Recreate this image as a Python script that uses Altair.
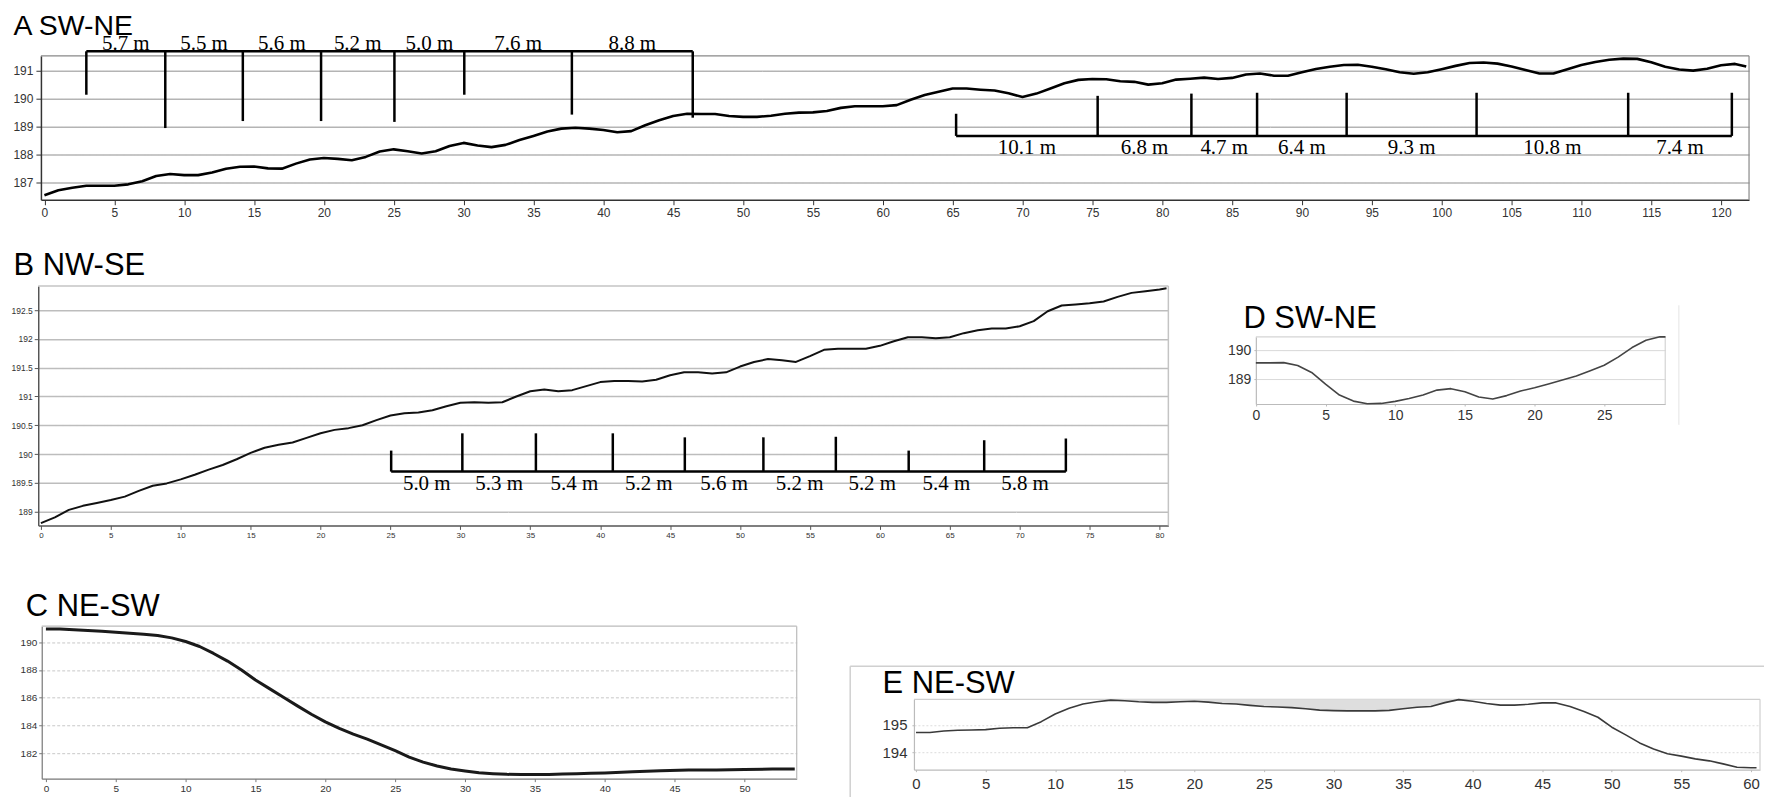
import altair as alt
import pandas as pd

W, H = 1760, 789

# ---------------- Panel A (SW-NE) ----------------
A_x = [0, 1, 2, 3, 4, 5, 6, 7, 8, 9, 10, 11, 12, 13, 14, 15, 16, 17, 18, 19,
       20, 21, 22, 23, 24, 25, 26, 27, 28, 29, 30, 31, 32, 33, 34, 35, 36, 37, 38, 39,
       40, 41, 42, 43, 44, 45, 46, 47, 48, 49, 50, 51, 52, 53, 54, 55, 56, 57, 58, 59,
       60, 61, 62, 63, 64, 65, 66, 67, 68, 69, 70, 71, 72, 73, 74, 75, 76, 77, 78, 79,
       80, 81, 82, 83, 84, 85, 86, 87, 88, 89, 90, 91, 92, 93, 94, 95, 96, 97, 98, 99,
       100, 101, 102, 103, 104, 105, 106, 107, 108, 109, 110, 111, 112, 113, 114, 115,
       116, 117, 118, 119, 120, 121, 121.8]
A_h = [186.55, 186.73, 186.82, 186.89, 186.89, 186.89, 186.94, 187.05, 187.24, 187.31,
       187.27, 187.27, 187.36, 187.50, 187.57, 187.58, 187.51, 187.50, 187.68, 187.83,
       187.88, 187.85, 187.80, 187.92, 188.11, 188.19, 188.12, 188.04, 188.12, 188.31,
       188.42, 188.33, 188.27, 188.35, 188.52, 188.67, 188.83, 188.93, 188.96, 188.93,
       188.88, 188.80, 188.84, 189.05, 189.23, 189.38, 189.46, 189.45, 189.45, 189.38,
       189.35, 189.35, 189.39, 189.46, 189.50, 189.51, 189.56, 189.67, 189.73, 189.73,
       189.73, 189.77, 189.96, 190.13, 190.25, 190.36, 190.36, 190.32, 190.29, 190.19,
       190.06, 190.18, 190.36, 190.55, 190.67, 190.70, 190.69, 190.62, 190.60, 190.50,
       190.55, 190.68, 190.71, 190.75, 190.70, 190.74, 190.86, 190.90, 190.82, 190.82,
       190.94, 191.06, 191.14, 191.20, 191.21, 191.14, 191.05, 190.94, 190.89, 190.94,
       191.05, 191.17, 191.27, 191.29, 191.25, 191.15, 191.02, 190.90, 190.90, 191.05,
       191.20, 191.31, 191.39, 191.43, 191.42, 191.30, 191.14, 191.04, 191.00, 191.07,
       191.19, 191.24, 191.15]
A_top_level = 191.69
A_top_drop_x = [3.0, 8.65, 14.2, 19.8, 25.05, 30.05, 37.75, 46.4]
A_top_drop_h = [190.14, 188.95, 189.2, 189.2, 189.17, 190.14, 189.43, 189.32]
A_top_labels = ["5.7 m", "5.5 m", "5.6 m", "5.2 m", "5.0 m", "7.6 m", "8.8 m"]
A_bot_level = 188.67
A_bot_drop_x = [65.25, 75.38, 82.09, 86.79, 93.2, 102.5, 113.35, 120.77]
A_bot_drop_h = [189.46, 190.1, 190.18, 190.21, 190.21, 190.21, 190.21, 190.21]
A_bot_labels = ["10.1 m", "6.8 m", "4.7 m", "6.4 m", "9.3 m", "10.8 m", "7.4 m"]
A_xticks = [0, 5, 10, 15, 20, 25, 30, 35, 40, 45, 50, 55, 60, 65, 70, 75, 80, 85, 90,
            95, 100, 105, 110, 115, 120]
A_yticks = [187, 188, 189, 190, 191]
A_xdom = [-0.25, 122.0]
A_ydom = [186.39, 191.53]

# ---------------- Panel B (NW-SE) ----------------
B_x = [0, 1, 2, 3, 4, 5, 6, 7, 8, 9, 10, 11, 12, 13, 14, 15, 16, 17, 18, 19,
       20, 21, 22, 23, 24, 25, 26, 27, 28, 29, 30, 31, 32, 33, 34, 35, 36, 37, 38, 39,
       40, 41, 42, 43, 44, 45, 46, 47, 48, 49, 50, 51, 52, 53, 54, 55, 56, 57, 58, 59,
       60, 61, 62, 63, 64, 65, 66, 67, 68, 69, 70, 71, 72, 73, 74, 75, 76, 77, 78, 79,
       80, 80.5]
B_h = [188.80, 188.90, 189.03, 189.10, 189.15, 189.20, 189.26, 189.36, 189.45, 189.49,
       189.56, 189.64, 189.73, 189.81, 189.91, 190.02, 190.11, 190.16, 190.20, 190.28,
       190.36, 190.42, 190.45, 190.50, 190.59, 190.67, 190.71, 190.72, 190.76, 190.83,
       190.89, 190.90, 190.89, 190.90, 191.00, 191.09, 191.12, 191.09, 191.11, 191.18,
       191.25, 191.27, 191.27, 191.26, 191.29, 191.37, 191.42, 191.42, 191.40, 191.42,
       191.52, 191.60, 191.65, 191.63, 191.60, 191.70, 191.81, 191.83, 191.83, 191.83,
       191.88, 191.96, 192.03, 192.03, 192.01, 192.03, 192.10, 192.15, 192.18, 192.18,
       192.22, 192.31, 192.48, 192.58, 192.60, 192.62, 192.65, 192.73, 192.80, 192.83,
       192.86, 192.88]
B_level = 189.695
B_drop_x = [25.05, 30.14, 35.4, 40.9, 46.05, 51.67, 56.85, 62.06, 67.46, 73.3]
B_drop_h = [190.06, 190.36, 190.36, 190.36, 190.29, 190.29, 190.3, 190.06, 190.24, 190.27]
B_labels = ["5.0 m", "5.3 m", "5.4 m", "5.2 m", "5.6 m", "5.2 m", "5.2 m", "5.4 m", "5.8 m"]
B_xticks = [0, 5, 10, 15, 20, 25, 30, 35, 40, 45, 50, 55, 60, 65, 70, 75, 80]
B_yticks = [189, 189.5, 190, 190.5, 191, 191.5, 192, 192.5]
B_xdom = [-0.19, 80.63]
B_ydom = [188.76, 192.92]

# ---------------- Panel C (NE-SW) ----------------
C_x = [0, 1, 2, 3, 4, 5, 6, 7, 8, 9, 10, 11, 12, 13, 14, 15, 16, 17, 18, 19,
       20, 21, 22, 23, 24, 25, 26, 27, 28, 29, 30, 31, 32, 33, 34, 35, 36, 37, 38, 39,
       40, 42, 44, 46, 48, 50, 52, 53.6]
C_h = [190.95, 190.95, 190.90, 190.84, 190.79, 190.72, 190.64, 190.57, 190.48, 190.31,
       190.05, 189.69, 189.19, 188.64, 188.00, 187.28, 186.66, 186.04, 185.42, 184.82,
       184.27, 183.80, 183.39, 183.03, 182.62, 182.20, 181.74, 181.38, 181.10, 180.88,
       180.74, 180.62, 180.55, 180.50, 180.48, 180.48, 180.48, 180.53, 180.55, 180.57,
       180.60, 180.69, 180.76, 180.81, 180.81, 180.84, 180.88, 180.88]
C_xticks = [0, 5, 10, 15, 20, 25, 30, 35, 40, 45, 50]
C_yticks = [182, 184, 186, 188, 190]
C_xdom = [-0.3, 53.74]
C_ydom = [180.19, 191.15]

# ---------------- Panel D (SW-NE) ----------------
D_x = [0, 1, 2, 3, 4, 5, 6, 7, 8, 9, 10, 11, 12, 13, 14, 15, 16, 17, 18, 19,
       20, 21, 22, 23, 24, 25, 26, 27, 28, 29, 29.4]
D_h = [189.56, 189.56, 189.57, 189.47, 189.23, 188.83, 188.45, 188.24, 188.15, 188.16,
       188.23, 188.33, 188.45, 188.62, 188.67, 188.56, 188.38, 188.31, 188.43, 188.59,
       188.70, 188.83, 188.97, 189.11, 189.29, 189.48, 189.76, 190.09, 190.34, 190.46,
       190.46]
D_xticks = [0, 5, 10, 15, 20, 25]
D_yticks = [189, 190]
D_xdom = [0, 29.38]
D_ydom = [188.14, 190.46]

# ---------------- Panel E (NE-SW) ----------------
E_x = [0, 1, 2, 3, 4, 5, 6, 7, 8, 9, 10, 11, 12, 13, 14, 15, 16, 17, 18, 19,
       20, 21, 22, 23, 24, 25, 26, 27, 28, 29, 30, 31, 32, 33, 34, 35, 36, 37, 38, 39,
       40, 41, 42, 43, 44, 45, 46, 47, 48, 49, 50, 51, 52, 53, 54, 55, 56, 57, 58, 59,
       60, 60.4]
E_h = [194.73, 194.73, 194.78, 194.81, 194.82, 194.83, 194.88, 194.90, 194.90, 195.12,
       195.40, 195.61, 195.76, 195.84, 195.90, 195.88, 195.84, 195.82, 195.82, 195.84,
       195.86, 195.83, 195.78, 195.76, 195.71, 195.67, 195.65, 195.63, 195.59, 195.54,
       195.52, 195.51, 195.51, 195.51, 195.53, 195.59, 195.64, 195.67, 195.81, 195.92,
       195.86, 195.78, 195.72, 195.72, 195.75, 195.80, 195.80, 195.67, 195.49, 195.28,
       194.92, 194.64, 194.35, 194.13, 193.96, 193.87, 193.77, 193.70, 193.59, 193.47,
       193.45, 193.45]
E_fill_from, E_fill_to = 14, 39
E_xticks = [0, 5, 10, 15, 20, 25, 30, 35, 40, 45, 50, 55, 60]
E_yticks = [194, 195]
E_xdom = [-0.15, 60.65]
E_ydom = [193.38, 195.93]

SANS = "Liberation Sans"
NARROW = "Liberation Sans Narrow, Arial Narrow, Liberation Sans"
SERIF = "Liberation Serif"
LABEL_SIZE = 21


def bracket_df(xs_, tips, level):
    rows = [dict(x=xs_[0], x2=xs_[-1], y=level, y2=level)]
    rows += [dict(x=a, x2=a, y=level, y2=t) for a, t in zip(xs_, tips)]
    return pd.DataFrame(rows)


def label_df(xs_, labels, level):
    mids = [(a + b) / 2 for a, b in zip(xs_[:-1], xs_[1:])]
    return pd.DataFrame(dict(x=mids, y=[level] * len(mids), t=labels))


def frame_df(xdom, ydom):
    return pd.DataFrame(dict(x=[xdom[0], xdom[1]], x2=[xdom[1], xdom[1]],
                             y=[ydom[1], ydom[0]], y2=[ydom[1], ydom[1]]))


def panel(p):
    xs = alt.Scale(domain=p["xdom"], range=p["xr"], nice=False, zero=False)
    ys = alt.Scale(domain=p["ydom"], range=p["yr"], nice=False, zero=False)
    ax = alt.Axis(orient="bottom", offset=p["xoff"], values=p["xticks"], title=None,
                  grid=False, domainColor=p["dom"], domainWidth=p["domw"],
                  tickColor=p["dom"], tickSize=p["tick"], tickWidth=1,
                  labelFont=p["lfont"], labelFontSize=p["lsize"], labelColor="#333",
                  labelPadding=p["lpad"], labelFlush=False, labelOverlap=False, format="~g")
    ay = alt.Axis(orient="left", offset=p["yoff"], values=p["yticks"], title=p["title"],
                  titleAngle=0, titleX=p["tx"], titleY=p["ty"], titleAlign="left",
                  titleBaseline="alphabetic", titleFont=SANS, titleFontSize=p["tsize"],
                  titleFontWeight="normal", titleColor="black",
                  grid=True, gridColor=p["gcol"], gridWidth=p["gw"], gridDash=p["gdash"],
                  domainColor=p["dom"], domainWidth=p["domw"],
                  tickColor=p["dom"], tickSize=p["tick"], tickWidth=1,
                  labelFont=p["lfont"], labelFontSize=p["ylsize"], labelColor="#333",
                  labelPadding=p["lpad"], labelFlush=False, labelOverlap=False, format="~g")
    X = alt.X("x:Q", scale=xs, axis=ax)
    Y = alt.Y("y:Q", scale=ys, axis=ay)
    layers = []
    fr = alt.Chart(frame_df(p["xdom"], p["ydom"])).mark_rule(
        color=p["fcol"], strokeWidth=p["fw"]).encode(x=X, x2="x2:Q", y=Y, y2="y2:Q")
    layers.append(fr)
    for extra in p.get("extras", []):
        layers.append(extra(X, Y))
    line = alt.Chart(pd.DataFrame(dict(x=p["lx"], y=p["ly"]))).mark_line(
        color=p["lcol"], strokeWidth=p["lw"], strokeJoin="round").encode(x=X, y=Y)
    layers.append(line)
    for br in p.get("brackets", []):
        layers.append(alt.Chart(bracket_df(br["x"], br["tips"], br["level"])).mark_rule(
            color="black", strokeWidth=2.5).encode(x=X, x2="x2:Q", y=Y, y2="y2:Q"))
        layers.append(alt.Chart(label_df(br["x"], br["labels"], br["level"])).mark_text(
            font=SERIF, fontSize=LABEL_SIZE, color="black", baseline="alphabetic", dy=br["dy"]
        ).encode(x=X, y=Y, text="t:N"))
    return alt.layer(*layers)


def e_fill(X, Y):
    xs_, hs_ = [], []
    for a, b in zip(E_x, E_h):
        if E_fill_from <= a <= E_fill_to:
            xs_.append(a)
            hs_.append(b)
    df = pd.DataFrame(dict(x=xs_, y=hs_, y2=[E_ydom[1]] * len(xs_)))
    return alt.Chart(df).mark_area(color="#dedede", opacity=1).encode(x=X, y=Y, y2="y2:Q")


def e_outer(X, Y):
    df = pd.DataFrame(dict(x=[-4.73, -4.73], x2=[62.5, -4.73], y=[197.13, 197.13], y2=[197.13, 191.5]))
    return alt.Chart(df).mark_rule(color="#d0d0d0", strokeWidth=1.5).encode(x=X, x2="x2:Q", y=Y, y2="y2:Q")


def d_outer(X, Y):
    df = pd.DataFrame(dict(x=[30.36], x2=[30.36], y=[191.55], y2=[187.42]))
    return alt.Chart(df).mark_rule(color="#e4e4e4", strokeWidth=1).encode(x=X, x2="x2:Q", y=Y, y2="y2:Q")


PA = dict(xdom=A_xdom, ydom=A_ydom, xr=[33, 1745], yr=[191.3, 47], xoff=191.3 - H, yoff=-33,
          xticks=A_xticks, yticks=A_yticks, dom="#333", domw=1.5, tick=5, lfont=SANS,
          lsize=12, ylsize=12, lpad=3, title="A SW-NE", tx=-28, ty=26, tsize=28.5,
          gcol="#b4b4b4", gw=1.5, gdash=[1, 0], fcol="#888", fw=1.2,
          lx=A_x, ly=A_h, lcol="black", lw=2.6,
          brackets=[dict(x=A_top_drop_x, tips=A_top_drop_h, level=A_top_level,
                         labels=A_top_labels, dy=-1.5),
                    dict(x=A_bot_drop_x, tips=A_bot_drop_h, level=A_bot_level,
                         labels=A_bot_labels, dy=18)])
PB = dict(xdom=B_xdom, ydom=B_ydom, xr=[30.3, 1163], yr=[517.7, 277.7], xoff=517.7 - H, yoff=-30.3,
          xticks=B_xticks, yticks=B_yticks, dom="#555", domw=1.5, tick=4, lfont=SANS,
          lsize=8, ylsize=8.5, lpad=2, title="B NW-SE", tx=-25.3, ty=266, tsize=31,
          gcol="#bdbdbd", gw=1.5, gdash=[1, 0], fcol="#c4c4c4", fw=1.5,
          lx=B_x, ly=B_h, lcol="#111", lw=2,
          brackets=[dict(x=B_drop_x, tips=B_drop_h, level=B_level, labels=B_labels, dy=18.5)])
PC = dict(xdom=C_xdom, ydom=C_ydom, xr=[33.8, 790.5], yr=[771.5, 618.7], xoff=771.5 - H, yoff=-33.8,
          xticks=C_xticks, yticks=C_yticks, dom="#777", domw=1.2, tick=3, lfont=NARROW,
          lsize=10, ylsize=10, lpad=2, title="C NE-SW", tx=-16.5, ty=608, tsize=31,
          gcol="#c8c8c8", gw=1, gdash=[3, 2], fcol="#bbb", fw=1.2,
          lx=C_x, ly=C_h, lcol="#1a1a1a", lw=3)
PD = dict(xdom=D_xdom, ydom=D_ydom, xr=[1250.7, 1661], yr=[396, 328.7], xoff=396 - H, yoff=-1250.7,
          xticks=D_xticks, yticks=D_yticks, dom="#bbb", domw=1.2, tick=2, lfont=NARROW,
          lsize=14, ylsize=14, lpad=3, title="D SW-NE", tx=-13, ty=319.5, tsize=31,
          gcol="#cfcfcf", gw=1, gdash=[1, 0], fcol="#d4d4d4", fw=1.2,
          lx=D_x, ly=D_h, lcol="#444", lw=1.6, extras=[d_outer])
PE = dict(xdom=E_xdom, ydom=E_ydom, xr=[908, 1756], yr=[762.5, 692], xoff=762.5 - H, yoff=-908,
          xticks=E_xticks, yticks=E_yticks, dom="#bbb", domw=1.2, tick=2, lfont=NARROW,
          lsize=15, ylsize=15, lpad=5, title="E NE-SW", tx=-32, ty=685, tsize=31,
          gcol="#dcdcdc", gw=1, gdash=[2, 2], fcol="#cfcfcf", fw=1.2,
          lx=E_x, ly=E_h, lcol="#3a3a3a", lw=1.6, extras=[e_outer, e_fill])

chart = alt.layer(panel(PA), panel(PB), panel(PC), panel(PD), panel(PE)).resolve_scale(
    x="independent", y="independent").resolve_axis(x="independent", y="independent").properties(
    width=W, height=H, padding=0, autosize=alt.AutoSizeParams(type="none"),
    background="white").configure_view(stroke="transparent")

chart.save("out.html", embed_options={"renderer": "svg", "actions": False})
